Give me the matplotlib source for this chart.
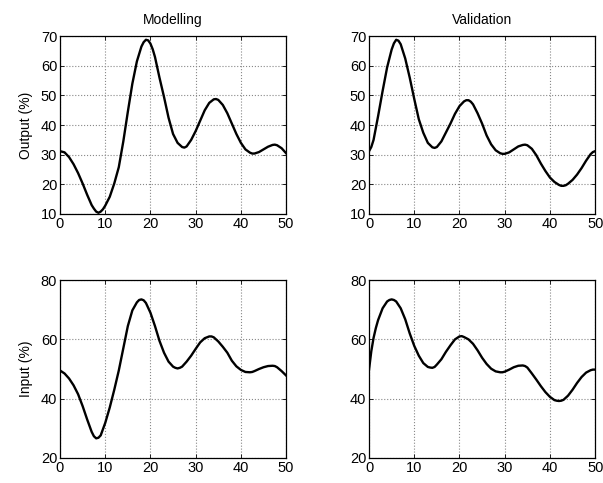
import matplotlib
matplotlib.use('Agg')
import matplotlib.pyplot as plt
import numpy as np

plt.rcParams['font.family'] = ['Liberation Sans', 'DejaVu Sans']
plt.rcParams['font.size'] = 10
plt.rcParams['xtick.direction'] = 'in'
plt.rcParams['ytick.direction'] = 'in'
plt.rcParams['axes.linewidth'] = 0.9

# values read at every sample 0..50
t = list(range(51))

model_output = [31.2, 30.8, 29.2, 26.8, 23.8, 20.3, 16.5, 13.0, 10.8, 10.8,
                12.8, 15.8, 20.3, 25.8, 34.5, 44.5, 54.0, 61.5, 66.5, 68.8,
                67.5, 63.0, 56.0, 49.5, 42.5, 37.0, 34.0, 32.6, 32.8, 35.0,
                38.0, 41.5, 45.0, 47.5, 48.7, 48.5, 46.8, 44.0, 40.5, 37.0,
                34.0, 31.8, 30.7, 30.4, 30.9, 31.8, 32.7, 33.3, 33.2, 32.2,
                30.5]
valid_output = [31.2, 35.0, 43.0, 51.5, 59.5, 65.5, 68.8, 67.3, 62.5, 56.0,
                48.8, 42.0, 37.4, 34.0, 32.5, 32.6, 34.5, 37.5, 40.5, 43.8,
                46.4, 48.0, 48.4, 47.0, 44.0, 40.5, 36.5, 33.5, 31.5, 30.5,
                30.3, 30.8, 31.8, 32.8, 33.3, 33.2, 32.0, 29.8, 27.0, 24.5,
                22.3, 20.8, 19.8, 19.5, 20.2, 21.5, 23.3, 25.5, 28.0, 30.2,
                31.2]
model_input = [49.5, 48.5, 46.8, 44.5, 41.5, 37.5, 33.0, 28.8, 26.6, 27.6,
               31.8, 37.0, 43.0, 49.5, 57.0, 64.5, 69.8, 72.5, 73.5, 72.3,
               69.0, 64.5, 59.5, 55.5, 52.5, 50.8, 50.2, 50.8, 52.5, 54.5,
               56.8, 59.0, 60.4, 61.0, 60.7, 59.3, 57.5, 55.5, 52.8, 50.9,
               49.7, 49.0, 48.9, 49.3, 50.0, 50.6, 51.0, 51.1, 50.6, 49.3,
               47.8]
valid_input = [49.8, 60.5, 66.5, 70.5, 72.8, 73.5, 72.8, 70.5, 66.8, 62.0,
               57.8, 54.5, 52.0, 50.7, 50.4, 51.5, 53.3, 55.8, 58.0, 60.0,
               61.0, 60.8, 60.0, 58.5, 56.3, 53.8, 51.7, 50.1, 49.2, 48.9,
               49.1, 49.8, 50.6, 51.1, 51.2, 50.5, 48.5, 46.4, 44.2, 42.2,
               40.6, 39.5, 39.2, 39.6, 41.0, 43.0, 45.3, 47.3, 48.8, 49.6,
               49.8]

# extra readings between samples, around the turning points
model_output_extra = [(7.5, 11.8), (8.5, 10.4), (9.5, 11.6), (18.5, 68.0),
                      (19.5, 68.6), (20.5, 65.6), (27.5, 32.4), (34.5, 48.8),
                      (42.5, 30.4), (47.5, 33.4)]
valid_output_extra = [(0.5, 32.6), (5.5, 67.6), (6.5, 68.5), (14.5, 32.3),
                      (21.5, 48.4), (22.5, 47.9), (29.5, 30.3), (34.5, 33.4),
                      (42.5, 19.5), (43.5, 19.7), (49.5, 30.9)]
model_input_extra = [(7.5, 27.3), (8.5, 26.8), (17.5, 73.3), (18.5, 73.2),
                     (25.5, 50.4), (26.5, 50.4), (33.5, 61.0), (42.5, 49.0),
                     (47.5, 51.0)]
valid_input_extra = [(0.5, 56.0), (1.5, 63.8), (4.5, 73.3), (5.5, 73.3),
                     (13.5, 50.5), (14.5, 50.7), (20.5, 61.1), (29.5, 48.9),
                     (34.5, 51.0), (41.5, 39.3), (42.5, 39.3), (49.5, 49.8)]


def merged(y, extra):
    pts = sorted(list(zip(t, y)) + extra)
    return [p[0] for p in pts], [p[1] for p in pts]


fig = plt.figure(figsize=(6.03, 4.83), dpi=100)

w, h = 0.375, 0.368
pos = {(0, 0): [0.0995, 0.557, w, h], (0, 1): [0.612, 0.557, w, h],
       (1, 0): [0.0995, 0.052, w, h], (1, 1): [0.612, 0.052, w, h]}

panels = [((0, 0), model_output, model_output_extra, (10, 70), np.arange(10, 71, 10)),
          ((0, 1), valid_output, valid_output_extra, (10, 70), np.arange(10, 71, 10)),
          ((1, 0), model_input, model_input_extra, (20, 80), np.arange(20, 81, 20)),
          ((1, 1), valid_input, valid_input_extra, (20, 80), np.arange(20, 81, 20))]

axes = {}
for key, y, extra, ylim, yticks in panels:
    ax = fig.add_axes(pos[key])
    xs, ys = merged(y, extra)
    ax.plot(xs, ys, color='black', lw=1.7, solid_joinstyle='round')
    ax.set_xlim(0, 50)
    ax.set_ylim(*ylim)
    ax.set_xticks(np.arange(0, 51, 10))
    ax.set_yticks(yticks)
    ax.grid(True, linestyle=':', color='#888888', lw=0.8)
    ax.tick_params(top=True, right=True, length=3, width=0.6, pad=2,
                   labelsize=10.5)
    axes[key] = ax

axes[(0, 0)].set_title('Modelling', fontsize=10, pad=9)
axes[(0, 1)].set_title('Validation', fontsize=10, pad=9)
axes[(0, 0)].set_ylabel('Output (%)', fontsize=10, labelpad=6)
axes[(1, 0)].set_ylabel('Input (%)', fontsize=10, labelpad=6)

fig.savefig('out.png', dpi=100)
